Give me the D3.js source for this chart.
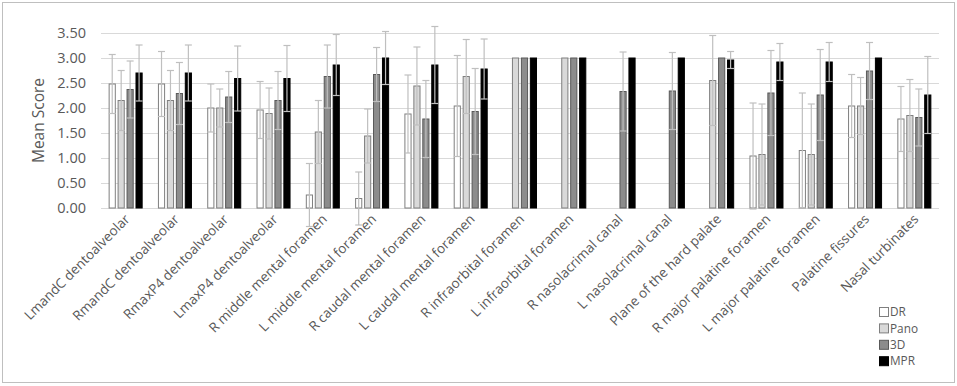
<!DOCTYPE html>
<html>
<head>
<meta charset="utf-8">
<script src="https://cdn.jsdelivr.net/npm/d3@7"></script>
<style>
    body { margin: 0; background: #fff; }
    svg text { font-family: "Open Sans", "Noto Sans", sans-serif; fill: #595959; }
</style>
</head>
<body>
<div id="chart"></div>
<script>
// Data
const categories = ["LmandC dentoalveolar", "RmandC dentoalveolar", "RmaxP4 dentoalveolar", "LmaxP4 dentoalveolar",
    "R middle mental foramen", "L middle mental foramen", "R caudal mental foramen", "L caudal mental foramen",
    "R infraorbital foramen", "L infraorbital foramen", "R nasolacrimal canal", "L nasolacrimal canal",
    "Plane of the hard palate", "R major palatine foramen", "L major palatine foramen", "Palatine fissures",
    "Nasal turbinates"];

const seriesNames = ["DR", "Pano", "3D", "MPR"];

const meanDR   = [2.48, 2.48, 2.00, 1.96, 0.26, 0.19, 1.88, 2.04, 0, 0, 0, 0, 0, 1.04, 1.15, 2.04, 1.78];
const meanPano = [2.15, 2.15, 2.00, 1.89, 1.52, 1.44, 2.44, 2.63, 3.00, 3.00, 0, 0, 2.55, 1.07, 1.07, 2.04, 1.85];
const mean3D   = [2.37, 2.29, 2.22, 2.15, 2.63, 2.67, 1.78, 1.93, 3.00, 3.00, 2.33, 2.34, 3.00, 2.30, 2.26, 2.74, 1.81];
const meanMPR  = [2.70, 2.70, 2.59, 2.59, 2.86, 3.00, 2.86, 2.78, 3.00, 3.00, 3.00, 3.00, 2.96, 2.92, 2.92, 3.00, 2.26];

// standard deviations (error bar half-length)
const sdDR   = [0.59, 0.65, 0.48, 0.57, 0.63, 0.53, 0.78, 1.01, 0, 0, 0, 0, 0, 1.06, 1.15, 0.63, 0.65];
const sdPano = [0.60, 0.60, 0.38, 0.51, 0.63, 0.54, 0.78, 0.74, 0, 0, 0, 0, 0.90, 1.01, 1.01, 0.57, 0.72];
const sd3D   = [0.57, 0.62, 0.51, 0.58, 0.63, 0.54, 0.77, 0.86, 0, 0, 0.79, 0.77, 0, 0.85, 0.91, 0.57, 0.57];
const sdMPR  = [0.56, 0.56, 0.65, 0.66, 0.61, 0.53, 0.77, 0.60, 0, 0, 0, 0, 0.17, 0.37, 0.39, 0, 0.77];

const yTicks = [0, 0.5, 1, 1.5, 2, 2.5, 3, 3.5];

const means = [meanDR, meanPano, mean3D, meanMPR];
const sds = [sdDR, sdPano, sd3D, sdMPR];

const fills = ["#ffffff", "#d9d9d9", "#8c8c8c", "#000000"];
const strokes = ["#7f7f7f", "#7f7f7f", "#595959", "#000000"];

const params = {
    selector: "chart",
    width: 957,
    height: 386,
    margin: {top: 33, right: 18, bottom: 178, left: 101}
}

const svg = d3.select(`#${params.selector}`)
    .append("svg")
    .attr("width", params.width)
    .attr("height", params.height);

// outer border
svg.append("rect")
    .attr("x", 2.5)
    .attr("y", 2.5)
    .attr("width", params.width - 5)
    .attr("height", params.height - 6)
    .attr("fill", "none")
    .attr("stroke", "#bfbfbf")
    .attr("stroke-width", 1);

const x0 = d3.scaleBand()
    .domain(categories)
    .range([params.margin.left, params.width - params.margin.right])
    .paddingInner(0.31)
    .paddingOuter(0.155);

const x1 = d3.scaleBand()
    .domain(seriesNames)
    .range([0, x0.bandwidth()])
    .paddingInner(0.2);

const y = d3.scaleLinear()
    .domain([0, 3.5])
    .range([params.height - params.margin.bottom, params.margin.top]);

// gridlines
svg.append("g")
    .selectAll("line")
    .data(yTicks)
    .join("line")
    .attr("x1", params.margin.left)
    .attr("x2", params.width - params.margin.right)
    .attr("y1", d => Math.round(y(d)) + 0.5)
    .attr("y2", d => Math.round(y(d)) + 0.5)
    .attr("stroke", "#d9d9d9")
    .attr("stroke-width", 1);

// y axis labels
svg.append("g")
    .selectAll("text")
    .data(yTicks)
    .join("text")
    .attr("x", params.margin.left - 15)
    .attr("y", d => y(d))
    .attr("dy", "0.35em")
    .attr("text-anchor", "end")
    .style("font-size", "14.5px")
    .text(d => d.toFixed(2));

svg.append("text")
    .attr("transform", `translate(44, ${y(1.75)}) rotate(-90)`)
    .attr("text-anchor", "middle")
    .style("font-size", "15.5px")
    .text("Mean Score");

// bars
const groups = svg.append("g")
    .selectAll("g")
    .data(categories)
    .join("g")
    .attr("transform", d => `translate(${x0(d)},0)`);

groups.each(function(cat, ci) {
    const g = d3.select(this);
    seriesNames.forEach((s, si) => {
        const v = means[si][ci];
        g.append("rect")
            .attr("x", x1(s) + 0.5)
            .attr("y", y(v))
            .attr("width", x1.bandwidth() - 1)
            .attr("height", Math.max(0, y(0) - y(v)))
            .attr("fill", fills[si])
            .attr("stroke", strokes[si])
            .attr("stroke-width", 1);
    });
    // error bars
    seriesNames.forEach((s, si) => {
        const v = means[si][ci];
        const e = sds[si][ci];
        if (e <= 0) return;
        const cx = x1(s) + x1.bandwidth() / 2;
        g.append("line")
            .attr("x1", cx).attr("x2", cx)
            .attr("y1", y(v - e)).attr("y2", y(v + e))
            .attr("stroke", "#bfbfbf")
            .attr("stroke-width", 1.2);
        [v - e, v + e].forEach(t => {
            g.append("line")
                .attr("x1", cx - 3.5).attr("x2", cx + 3.5)
                .attr("y1", y(t)).attr("y2", y(t))
                .attr("stroke", "#bfbfbf")
                .attr("stroke-width", 1.2);
        });
    });
});

// x labels
svg.append("g")
    .selectAll("text")
    .data(categories)
    .join("text")
    .attr("transform", d => `translate(${x0(d) + x0.bandwidth() / 2 + 5}, ${y(0) + 12}) rotate(-45)`)
    .attr("text-anchor", "end")
    .style("font-size", "13.5px")
    .text(d => d);

// legend
const legend = svg.append("g")
    .attr("transform", "translate(879, 307)");

legend.selectAll("rect")
    .data(seriesNames)
    .join("rect")
    .attr("x", 0.5)
    .attr("y", (d, i) => i * 16.4 + 0.5)
    .attr("width", 9)
    .attr("height", 9)
    .attr("fill", (d, i) => fills[i])
    .attr("stroke", (d, i) => strokes[i]);

legend.selectAll("text")
    .data(seriesNames)
    .join("text")
    .attr("x", 11)
    .attr("y", (d, i) => i * 16.4 + 5)
    .attr("dy", "0.35em")
    .style("font-size", "11.8px")
    .text(d => d);
</script>
</body>
</html>
